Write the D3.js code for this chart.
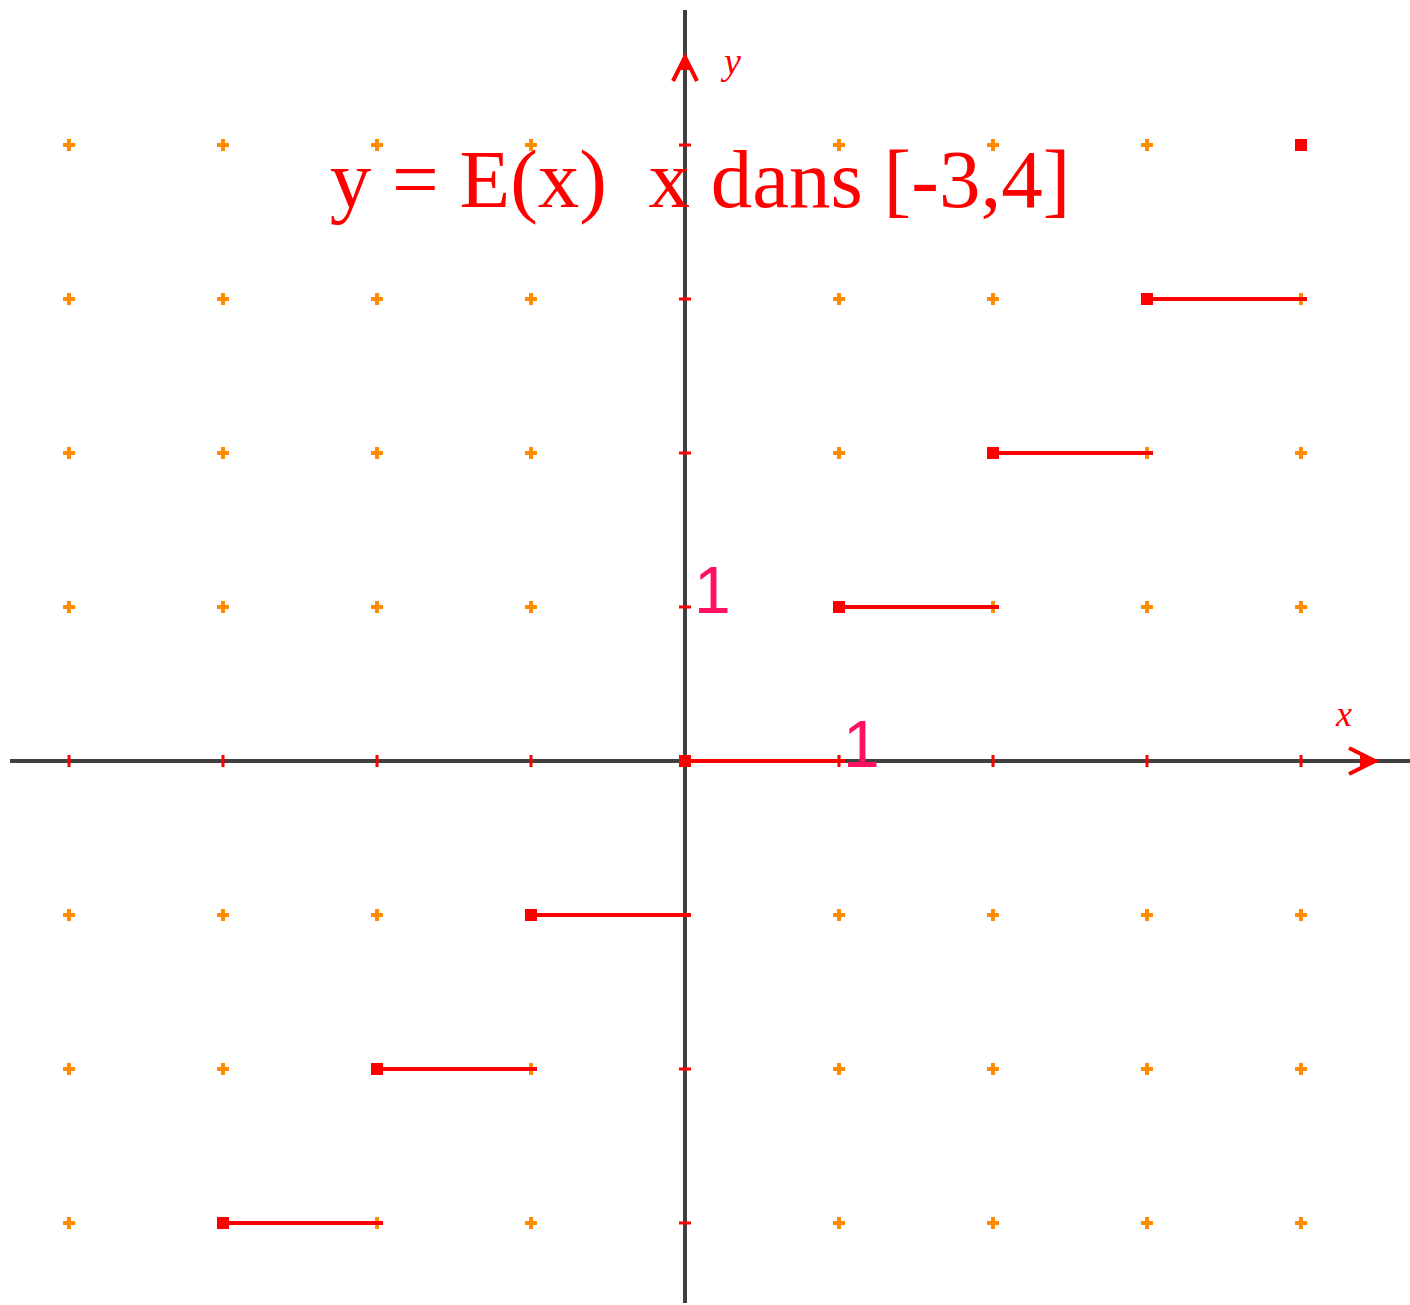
<!DOCTYPE html>
<html>
<head>
<meta charset="utf-8">
<script src="https://cdn.jsdelivr.net/npm/d3@7"></script>
<style>
  body { margin: 0; background: #fff; }
  svg { display: block; }
</style>
</head>
<body>
<div id="grafico"></div>
<script>
// donnees de la fonction partie entiere sur [-3,4]
const stepStarts = [-3, -2, -1, 0, 1, 2, 3];
const stepValues = [-3, -2, -1, 0, 1, 2, 3];
const endPoint = [4, 4];
const gridX = [-4, -3, -2, -1, 0, 1, 2, 3, 4];
const gridY = [-3, -2, -1, 0, 1, 2, 3, 4];
const titleText = "y = E(x)  x dans [-3,4]";

const width = 1410;
const height = 1305;

const x = d3.scaleLinear().domain([-4, 4]).range([69, 1301]);
const y = d3.scaleLinear().domain([-3, 4]).range([1223, 145]);

const red = "#ff0000";
const orange = "#ff8c00";
const axisColor = "#404040";

const svg = d3.select('#grafico')
    .append('svg')
    .attr('width', width)
    .attr('height', height);

// croix de la grille (hors axes)
const pts = [];
gridX.forEach(gx => gridY.forEach(gy => {
    if (gx !== 0 && gy !== 0) pts.push([gx, gy]);
}));
const cross = svg.append('g')
    .selectAll('g')
    .data(pts)
    .enter()
    .append('g')
    .attr('transform', d => `translate(${x(d[0])}, ${y(d[1])})`);
cross.append('rect').attr('x', -6).attr('y', -2).attr('width', 12).attr('height', 4).attr('fill', orange);
cross.append('rect').attr('x', -2).attr('y', -6).attr('width', 4).attr('height', 12).attr('fill', orange);

// axes
svg.append('line')
    .attr('x1', 10).attr('x2', 1410)
    .attr('y1', y(0)).attr('y2', y(0))
    .attr('stroke', axisColor).attr('stroke-width', 4);
svg.append('line')
    .attr('x1', x(0)).attr('x2', x(0))
    .attr('y1', 10).attr('y2', 1303)
    .attr('stroke', axisColor).attr('stroke-width', 4);

// graduations rouges sur les axes
svg.append('g')
    .selectAll('rect')
    .data(gridX.filter(d => d !== 0))
    .enter()
    .append('rect')
    .attr('x', d => x(d) - 1.5)
    .attr('y', y(0) - 6)
    .attr('width', 3)
    .attr('height', 12)
    .attr('fill', red);
svg.append('g')
    .selectAll('rect')
    .data(gridY.filter(d => d !== 0))
    .enter()
    .append('rect')
    .attr('x', x(0) - 6)
    .attr('y', d => y(d) - 1.5)
    .attr('width', 12)
    .attr('height', 3)
    .attr('fill', red);

// fleches
svg.append('path')
    .attr('d', `M${x(0) - 12},${81} L${x(0)},${57} L${x(0) + 12},${81}`)
    .attr('fill', 'none').attr('stroke', red).attr('stroke-width', 4);
svg.append('path')
    .attr('d', `M${x(0) - 6},${70} L${x(0)},${58} L${x(0) + 6},${70} Z`)
    .attr('fill', red);
svg.append('path')
    .attr('d', `M${1349},${y(0) - 13} L${1375},${y(0)} L${1349},${y(0) + 13}`)
    .attr('fill', 'none').attr('stroke', red).attr('stroke-width', 4);
svg.append('path')
    .attr('d', `M${1360},${y(0) - 6} L${1375},${y(0)} L${1360},${y(0) + 6} Z`)
    .attr('fill', red);

// marches
const steps = stepStarts.map((s, i) => ({ x0: s, x1: s + 1, v: stepValues[i] }));
svg.append('g')
    .selectAll('line')
    .data(steps)
    .enter()
    .append('line')
    .attr('x1', d => x(d.x0))
    .attr('x2', d => x(d.x1) + 6)
    .attr('y1', d => y(d.v))
    .attr('y2', d => y(d.v))
    .attr('stroke', red)
    .attr('stroke-width', 4);
svg.append('g')
    .selectAll('rect')
    .data(steps.map(d => [d.x0, d.v]).concat([endPoint]))
    .enter()
    .append('rect')
    .attr('x', d => x(d[0]) - 6)
    .attr('y', d => y(d[1]) - 6)
    .attr('width', 12)
    .attr('height', 12)
    .attr('fill', red);

// textes
svg.append('text')
    .attr('x', 700).attr('y', 207)
    .attr('text-anchor', 'middle')
    .attr('font-family', '"Liberation Serif", "Times New Roman", serif')
    .attr('font-size', 83)
    .attr('fill', red)
    .style('white-space', 'pre')
    .text(titleText);

svg.append('text')
    .attr('x', 724).attr('y', 74)
    .attr('font-family', '"Liberation Serif", serif')
    .attr('font-style', 'italic')
    .attr('font-size', 38)
    .attr('fill', red)
    .text('y');
svg.append('text')
    .attr('x', 1336).attr('y', 726)
    .attr('font-family', '"Liberation Serif", serif')
    .attr('font-style', 'italic')
    .attr('font-size', 36)
    .attr('fill', red)
    .text('x');

svg.append('text')
    .attr('x', 694).attr('y', 613)
    .attr('font-family', '"Liberation Sans", Arial, sans-serif')
    .attr('font-size', 66)
    .attr('fill', '#ff1060')
    .text('1');
svg.append('text')
    .attr('x', 843).attr('y', 767)
    .attr('font-family', '"Liberation Sans", Arial, sans-serif')
    .attr('font-size', 66)
    .attr('fill', '#ff1060')
    .text('1');
</script>
</body>
</html>
